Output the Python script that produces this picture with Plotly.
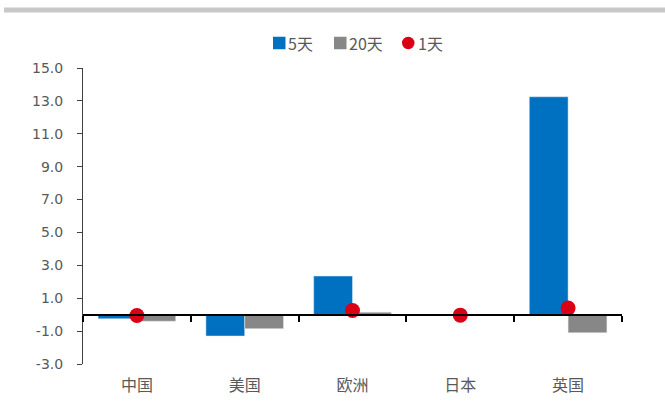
import plotly.graph_objects as go

# Regions and return series (percent)
regions = ["中国", "美国", "欧洲", "日本", "英国"]
ret_5d = [-0.25, -1.3, 2.35, 0.0, 13.25]
ret_20d = [-0.4, -0.85, 0.15, -0.05, -1.1]
ret_1d = [-0.05, None, 0.25, -0.03, 0.4]

y_ticks = [-3, -1, 1, 3, 5, 7, 9, 11, 13, 15]
y_tick_text = [f"{v:.1f}" for v in y_ticks]  # plain hyphen for negatives

BLUE = "#0070c0"
GRAY = "#878787"
RED = "#dc0014"
TEXT = "#595959"

fig = go.Figure()
fig.add_trace(go.Bar(name="5天", x=regions, y=ret_5d, marker=dict(color=BLUE)))
fig.add_trace(go.Bar(name="20天", x=regions, y=ret_20d, marker=dict(color=GRAY)))
fig.add_trace(go.Scatter(name="1天", x=regions, y=ret_1d, mode="markers",
                         marker=dict(color=RED, size=15)))

y_min, y_max = -3, 15
zero_pos = (0 - y_min) / (y_max - y_min)

# plot area in pixels: x 83..622, y 68..364
L, T, W, H = 83, 68, 539, 296


def px_x(p):
    return (p - L) / W


def px_y(p):
    return (T + H - p) / H


# compact legend row above the plot: symbol immediately followed by its label
legend_items = [
    ("5天", BLUE, "rect", 273, 287),
    ("20天", GRAY, "rect", 334, 348),
    ("1天", RED, "circle", 402, 417),
]
legend_cy, sym = 43, 12.5
shapes = [dict(type="rect", xref="paper", yref="paper",
               x0=px_x(4), x1=px_x(665), y0=px_y(12.5), y1=px_y(7.5),
               fillcolor="#c8c8c8", line=dict(width=0), layer="above")]
annotations = []
for label, color, kind, sx, tx in legend_items:
    shapes.append(dict(type=kind, xref="paper", yref="paper",
                       x0=px_x(sx), x1=px_x(sx + sym),
                       y0=px_y(legend_cy + sym / 2), y1=px_y(legend_cy - sym / 2),
                       fillcolor=color, line=dict(width=0)))
    annotations.append(dict(text=label, xref="paper", yref="paper",
                            x=px_x(tx), y=px_y(legend_cy), xanchor="left", yanchor="middle",
                            showarrow=False, borderpad=0,
                            font=dict(family="Noto Sans CJK SC", size=16, color=TEXT)))

fig.update_layout(
    width=665, height=401,
    margin=dict(l=L, r=665 - L - W, t=T, b=401 - T - H),
    paper_bgcolor="white", plot_bgcolor="white",
    barmode="group", bargap=0.28, bargroupgap=0,
    font=dict(family="DejaVu Sans, sans-serif", size=13, color=TEXT),
    showlegend=False,
    xaxis=dict(
        type="category", anchor="free", position=zero_pos, automargin=False,
        showline=True, linecolor="black", linewidth=2,
        ticks="outside", tickson="boundaries", ticklen=6, tickcolor="black", tickwidth=2,
        ticklabelstandoff=56,
        tickfont=dict(family="Noto Sans CJK SC", size=16, color=TEXT),
        showgrid=False, zeroline=False,
    ),
    yaxis=dict(
        range=[y_min, y_max], tickvals=y_ticks, ticktext=y_tick_text, automargin=False,
        showline=True, linecolor="#404040", linewidth=1,
        ticks="outside", ticklen=5, tickcolor="#404040",
        ticklabelstandoff=11,
        tickfont=dict(family="DejaVu Sans", size=14, color=TEXT),
        showgrid=False, zeroline=False,
    ),
    shapes=shapes,
    annotations=annotations,
)

fig.write_html("out.html")
